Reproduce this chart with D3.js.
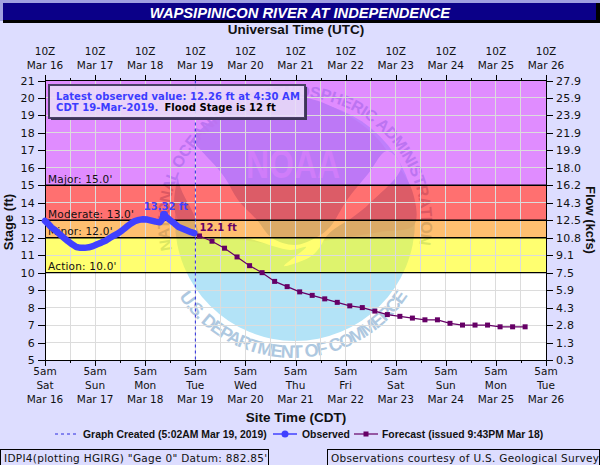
<!DOCTYPE html>
<html lang="en">
  <head>
    <meta charset="UTF-8" />
    <title>Wapsipinicon River at Independence</title>
    <script src="https://d3js.org/d3.v7.min.js"></script>
    <style>
      html, body { margin: 0; padding: 0; background: #ddddff; }
      svg { display: block; }
      text { font-family: "DejaVu Sans", sans-serif; fill: #111; }
      .tick-lbl { font-size: 10.5px; }
      .arial-b { font-family: "Liberation Sans", sans-serif; font-weight: bold; }
      .axis path, .axis line { stroke: #000; shape-rendering: crispEdges; }
      .axis text { font-family: "DejaVu Sans", sans-serif; font-size: 11px; letter-spacing: 0.2px; }
    </style>
  </head>
  <body>
    <svg id="chart" width="600" height="465"></svg>
    <script>
      // hours counted from 5am Sat Mar 16
      const obsHours = [0, 1.5, 3, 5, 7, 9, 11, 13, 15, 17, 19, 21, 23, 25, 27, 29, 31, 33, 35, 37, 39, 41, 43, 45, 47, 49, 51, 53, 55, 56, 57, 58, 60, 62, 64, 66, 68, 70, 71.5];
      const obsStage = [12.96, 12.8, 12.6, 12.42, 12.2, 12.0, 11.8, 11.62, 11.47, 11.42, 11.42, 11.45, 11.52, 11.63, 11.72, 11.82, 11.98, 12.12, 12.25, 12.42, 12.62, 12.8, 12.95, 13.02, 13.06, 13.04, 12.98, 12.92, 12.88, 13.02, 13.32, 13.2, 13.0, 12.82, 12.62, 12.52, 12.42, 12.32, 12.26];

      const fcstHours = [74, 80, 86, 92, 98, 104, 110, 116, 122, 128, 134, 140, 146, 152, 158, 164, 170, 176, 182, 188, 194, 200, 206, 212, 218, 224, 230];
      const fcstStage = [12.1, 11.8, 11.4, 10.9, 10.4, 10.0, 9.5, 9.2, 8.9, 8.7, 8.5, 8.3, 8.1, 8.0, 7.8, 7.6, 7.5, 7.4, 7.3, 7.3, 7.1, 7.0, 7.0, 7.0, 6.9, 6.9, 6.9];

      const createdHour = 72.03;
      const latestPeak = { hour: 57, stage: 13.32, label: "13.32 ft" };
      const fcstPeakLabel = "12.1 ft";

      const stageTicks = d3.range(5, 22);
      const flowLabels = ["0.3", "1.3", "2.8", "4.3", "5.9", "7.5", "9.1", "10.8", "12.5", "14.3", "16.2", "18.0", "19.9", "21.9", "23.9", "25.9", "27.9"];

      const dayNames = ["Sat", "Sun", "Mon", "Tue", "Wed", "Thu", "Fri", "Sat", "Sun", "Mon", "Tue"];
      const dayDates = ["Mar 16", "Mar 17", "Mar 18", "Mar 19", "Mar 20", "Mar 21", "Mar 22", "Mar 23", "Mar 24", "Mar 25", "Mar 26"];

      const floodNames = ["Action", "Minor", "Moderate", "Major"];
      const floodStages = [10, 12, 13, 15];
      const bandTops = [12, 13, 15, 21];
      const bandColors = ["#ffff00", "#ff8c00", "#ff0000", "#c832ff"];

      const svg = d3.select("#chart");
      const plot = { left: 45, right: 546, top: 80.5, bottom: 360 };

      const x = d3.scaleLinear().domain([0, 240]).range([plot.left, plot.right]);
      const y = d3.scaleLinear().domain([5, 21]).range([plot.bottom, plot.top]);
      const dayTicks = d3.range(0, 241, 24);
      const halfTicks = d3.range(0, 241, 12);

      // title bar
      svg.append("rect").attr("width", 600).attr("height", 3).attr("fill", "#a0a0e0");
      svg.append("rect").attr("y", 3).attr("width", 3).attr("height", 18).attr("fill", "#a0a0e0");
      svg.append("rect").attr("x", 3).attr("y", 3).attr("width", 597).attr("height", 20).attr("fill", "#000");
      svg.append("rect").attr("x", 3).attr("y", 3).attr("width", 593).attr("height", 17).attr("fill", "#0b0088");
      svg.append("text").attr("class", "arial-b").attr("x", 300).attr("y", 18)
        .attr("text-anchor", "middle").attr("font-size", 14.7).attr("font-style", "italic")
        .style("fill", "#fff").text("WAPSIPINICON RIVER AT INDEPENDENCE");

      svg.append("rect").attr("x", plot.left).attr("y", plot.top)
        .attr("width", plot.right - plot.left).attr("height", plot.bottom - plot.top).attr("fill", "#fff");

      svg.append("clipPath").attr("id", "plotClip").append("rect")
        .attr("x", plot.left).attr("y", plot.top)
        .attr("width", plot.right - plot.left).attr("height", plot.bottom - plot.top);

      // noaa watermark, sits under the see-through flood bands
      const logo = svg.append("g").attr("clip-path", "url(#plotClip)");
      const ringColor = "#aec8e0";
      const blob = d3.line().curve(d3.curveCatmullRomClosed.alpha(0.5));
      logo.append("circle").attr("cx", 295).attr("cy", 221).attr("r", 120).attr("fill", "#b3e3f7");
      logo.append("path").attr("fill", "#afd2ea").attr("d", blob([
        [190, 143], [200, 130], [220, 116], [250, 104], [280, 98], [307, 98], [335, 108], [357, 121], [375, 136], [390, 155],
        [412, 190], [414, 225], [380, 232], [330, 240], [295, 246], [240, 240], [196, 238], [176, 215], [176, 185]
      ]));
      logo.append("path").attr("fill", "#fff").attr("d", blob([
        [186, 140], [210, 160], [225, 178], [238, 200], [257, 220], [272, 238], [295, 245], [317, 237], [330, 227], [347, 200], [368, 174], [387, 151],
        [401, 167], [370, 203], [353, 217], [333, 230], [325, 238], [320, 247], [310, 257], [284, 266], [297, 255], [306, 247],
        [290, 250], [245, 238], [202, 236], [194, 215], [178, 178]
      ]));
      logo.append("text").attr("class", "arial-b").attr("x", 293).attr("y", 178)
        .attr("text-anchor", "middle").attr("font-size", 40).attr("textLength", 94)
        .attr("lengthAdjust", "spacingAndGlyphs").style("fill", "#dadcf4").text("NOAA");

      const defs = svg.append("defs");
      defs.append("path").attr("id", "ringTop").attr("d", "M172,250 A126,126 0 1 1 418,250");
      defs.append("path").attr("id", "ringBottom").attr("d", "M171.4,284 A137,137 0 0 0 414.6,284");

      // squeeze or stretch ring text so it fills the arc
      function fitRing(sel, target) {
        const n = sel.text().length;
        const len = sel.node().getComputedTextLength();
        sel.attr("letter-spacing", (target - len) / n);
      }
      const ringTop = logo.append("text").attr("class", "arial-b").attr("font-size", 16).style("fill", ringColor);
      ringTop.append("textPath").attr("href", "#ringTop").text("NATIONAL OCEANIC AND ATMOSPHERIC ADMINISTRATION");
      fitRing(ringTop, 445);
      const ringBottom = logo.append("text").attr("class", "arial-b").attr("font-size", 18).style("fill", ringColor);
      ringBottom.append("textPath").attr("href", "#ringBottom").attr("startOffset", "50%").attr("text-anchor", "middle").text("U.S. DEPARTMENT OF COMMERCE");
      fitRing(ringBottom, 270);

      // flood bands
      svg.append("g").selectAll("rect").data(floodStages).join("rect")
        .attr("x", plot.left).attr("width", plot.right - plot.left)
        .attr("y", (d, i) => y(bandTops[i]))
        .attr("height", (d, i) => y(d) - y(bandTops[i]))
        .attr("fill", (d, i) => bandColors[i]).attr("fill-opacity", 0.56);

      // grid
      const grid = svg.append("g").attr("stroke", "#dcdcdc").attr("stroke-width", 1).attr("shape-rendering", "crispEdges");
      grid.selectAll(".gx").data(halfTicks.slice(1, -1)).join("line").attr("class", "gx")
        .attr("x1", d => x(d)).attr("x2", d => x(d)).attr("y1", plot.top).attr("y2", plot.bottom);
      grid.selectAll(".gy").data(stageTicks.slice(1, -1)).join("line").attr("class", "gy")
        .attr("x1", plot.left).attr("x2", plot.right).attr("y1", d => y(d)).attr("y2", d => y(d));

      // flood lines and names
      svg.append("g").selectAll("line").data(floodStages).join("line")
        .attr("x1", plot.left).attr("x2", plot.right).attr("y1", d => y(d)).attr("y2", d => y(d))
        .attr("stroke", "#000").attr("stroke-width", 1.4);
      svg.append("g").selectAll("text").data(floodStages).join("text")
        .attr("x", 48).attr("y", d => y(d) - 2.5).attr("font-size", 10.5).attr("letter-spacing", 0.2)
        .text((d, i) => floodNames[i] + ": " + d.toFixed(1) + "'");

      // axes
      const fmtNone = () => "";
      const addMinor = axis => svg.append("g").attr("class", "axis").call(axis).call(g => g.select(".domain").remove());

      addMinor(d3.axisTop(x).tickValues(halfTicks).tickSize(3).tickFormat(fmtNone)).attr("transform", `translate(0,${plot.top})`);
      addMinor(d3.axisTop(x).tickValues(dayTicks).tickSize(6).tickFormat(fmtNone)).attr("transform", `translate(0,${plot.top})`);
      addMinor(d3.axisBottom(x).tickValues(halfTicks).tickSize(3).tickFormat(fmtNone)).attr("transform", `translate(0,${plot.bottom})`);
      addMinor(d3.axisBottom(x).tickValues(dayTicks).tickSize(6).tickFormat(fmtNone)).attr("transform", `translate(0,${plot.bottom})`);

      svg.append("g").attr("class", "axis").attr("transform", `translate(${plot.left},0)`)
        .call(d3.axisLeft(y).tickValues(stageTicks).tickSize(7).tickPadding(3).tickFormat(d3.format("d")))
        .call(g => g.select(".domain").remove());
      svg.append("g").attr("class", "axis").attr("transform", `translate(${plot.right},0)`)
        .call(d3.axisRight(y).tickValues(stageTicks).tickSize(7).tickPadding(3).tickFormat(d => flowLabels[d - 5]))
        .call(g => g.select(".domain").remove());

      svg.append("rect").attr("x", plot.left).attr("y", plot.top)
        .attr("width", plot.right - plot.left).attr("height", plot.bottom - plot.top)
        .attr("fill", "none").attr("stroke", "#000").attr("shape-rendering", "crispEdges");

      // day labels above and below
      const topLbl = svg.append("g").selectAll("g").data(dayTicks).join("g");
      topLbl.append("text").attr("class", "tick-lbl").attr("x", d => x(d)).attr("y", 55).attr("text-anchor", "middle").text("10Z");
      topLbl.append("text").attr("class", "tick-lbl").attr("x", d => x(d)).attr("y", 69).attr("text-anchor", "middle").text((d, i) => dayDates[i]);
      const botLbl = svg.append("g").selectAll("g").data(dayTicks).join("g");
      botLbl.append("text").attr("class", "tick-lbl").attr("x", d => x(d)).attr("y", 375).attr("text-anchor", "middle").text("5am");
      botLbl.append("text").attr("class", "tick-lbl").attr("x", d => x(d)).attr("y", 389).attr("text-anchor", "middle").text((d, i) => dayNames[i]);
      botLbl.append("text").attr("class", "tick-lbl").attr("x", d => x(d)).attr("y", 403).attr("text-anchor", "middle").text((d, i) => dayDates[i]);

      // axis titles
      svg.append("text").attr("class", "arial-b").attr("x", 296).attr("y", 34).attr("text-anchor", "middle")
        .attr("font-size", 13.5).text("Universal Time (UTC)");
      svg.append("text").attr("class", "arial-b").attr("x", 296).attr("y", 422).attr("text-anchor", "middle")
        .attr("font-size", 13.5).text("Site Time (CDT)");
      svg.append("text").attr("class", "arial-b").attr("font-size", 13).attr("text-anchor", "middle")
        .attr("transform", "translate(13,222) rotate(-90)").text("Stage (ft)");
      svg.append("text").attr("class", "arial-b").attr("font-size", 13).attr("text-anchor", "middle")
        .attr("transform", "translate(586,220) rotate(90)").text("Flow (kcfs)");

      // graph created marker
      const obsBlue = "#4040ff";
      const fcstPurple = "#660066";
      svg.append("line").attr("x1", x(createdHour)).attr("x2", x(createdHour)).attr("y1", plot.top).attr("y2", plot.bottom)
        .attr("stroke", "#2a2ae0").attr("stroke-dasharray", "3,3");

      // forecast
      const fcstPts = fcstHours.map((h, i) => [h, fcstStage[i]]);
      const obsPts = obsHours.map((h, i) => [h, obsStage[i]]);
      const line = d3.line().x(d => x(d[0])).y(d => y(d[1]));
      svg.append("path").attr("d", line(fcstPts)).attr("fill", "none").attr("stroke", fcstPurple).attr("stroke-width", 1.2);
      svg.append("g").selectAll("rect").data(fcstPts).join("rect")
        .attr("x", d => x(d[0]) - 2.5).attr("y", d => y(d[1]) - 2.5).attr("width", 5).attr("height", 5)
        .attr("fill", fcstPurple);

      // observed
      svg.append("path").attr("d", line(obsPts)).attr("fill", "none").attr("stroke", obsBlue)
        .attr("stroke-width", 6.5).attr("stroke-linejoin", "round").attr("stroke-linecap", "round");
      svg.append("circle").attr("cx", x(latestPeak.hour)).attr("cy", y(latestPeak.stage)).attr("r", 4).attr("fill", obsBlue);

      svg.append("text").attr("x", x(latestPeak.hour) + 2).attr("y", y(latestPeak.stage) - 5).attr("text-anchor", "middle")
        .attr("font-size", 10).attr("font-weight", "bold").style("fill", obsBlue).text(latestPeak.label);
      svg.append("text").attr("x", x(fcstHours[0])).attr("y", y(fcstStage[0]) - 5)
        .attr("font-size", 10).attr("font-weight", "bold").style("fill", fcstPurple).text(fcstPeakLabel);

      // latest value box
      svg.append("rect").attr("x", 49).attr("y", 85).attr("width", 256).attr("height", 33)
        .attr("fill", "#e8dcf8").attr("fill-opacity", 0.88).attr("stroke", "#4a3f66").attr("stroke-width", 2);
      svg.append("path").attr("d", "M51,119 H306 V87").attr("fill", "none").attr("stroke", "#3d3458").attr("stroke-width", 2);
      const infoA = svg.append("text").attr("x", 56).attr("y", 100).attr("font-size", 10).attr("font-weight", "bold").attr("letter-spacing", 0.06);
      infoA.append("tspan").style("fill", "#3c3cff").text("Latest observed value: 12.26 ft at 4:30 AM");
      const infoB = svg.append("text").attr("x", 56).attr("y", 111).attr("font-size", 10).attr("font-weight", "bold").attr("letter-spacing", 0.06);
      infoB.append("tspan").style("fill", "#3c3cff").text("CDT 19-Mar-2019.");
      infoB.append("tspan").style("fill", "#000").attr("dx", 6).text("Flood Stage is 12 ft");

      // legend
      const legendY = 434;
      svg.append("line").attr("x1", 55).attr("x2", 77).attr("y1", legendY).attr("y2", legendY)
        .attr("stroke", "#2a2ae0").attr("stroke-dasharray", "3,3");
      svg.append("text").attr("class", "arial-b").attr("x", 83).attr("y", legendY + 4).attr("font-size", 10.4).text("Graph Created (5:02AM Mar 19, 2019)");
      svg.append("line").attr("x1", 273).attr("x2", 297).attr("y1", legendY).attr("y2", legendY).attr("stroke", obsBlue).attr("stroke-width", 1.5);
      svg.append("circle").attr("cx", 285).attr("cy", legendY).attr("r", 3.5).attr("fill", obsBlue);
      svg.append("text").attr("class", "arial-b").attr("x", 302).attr("y", legendY + 4).attr("font-size", 10.4).text("Observed");
      svg.append("line").attr("x1", 354).attr("x2", 378).attr("y1", legendY).attr("y2", legendY).attr("stroke", fcstPurple).attr("stroke-width", 1.2);
      svg.append("rect").attr("x", 363.5).attr("y", legendY - 2.5).attr("width", 5).attr("height", 5).attr("fill", fcstPurple);
      svg.append("text").attr("class", "arial-b").attr("x", 382).attr("y", legendY + 4).attr("font-size", 10.4).text("Forecast (issued 9:43PM Mar 18)");

      // footer boxes
      svg.append("rect").attr("x", 0.5).attr("y", 449.5).attr("width", 268).attr("height", 20).attr("fill", "none").attr("stroke", "#000");
      svg.append("text").attr("x", 4).attr("y", 462).attr("font-size", 10.5).attr("letter-spacing", 0.3).text("IDPI4(plotting HGIRG) \"Gage 0\" Datum: 882.85'");
      svg.append("rect").attr("x", 327.5).attr("y", 449.5).attr("width", 272).attr("height", 20).attr("fill", "none").attr("stroke", "#000");
      svg.append("text").attr("x", 331).attr("y", 462).attr("font-size", 10.5).attr("letter-spacing", 0.3).text("Observations courtesy of U.S. Geological Survey");
    </script>
  </body>
</html>
